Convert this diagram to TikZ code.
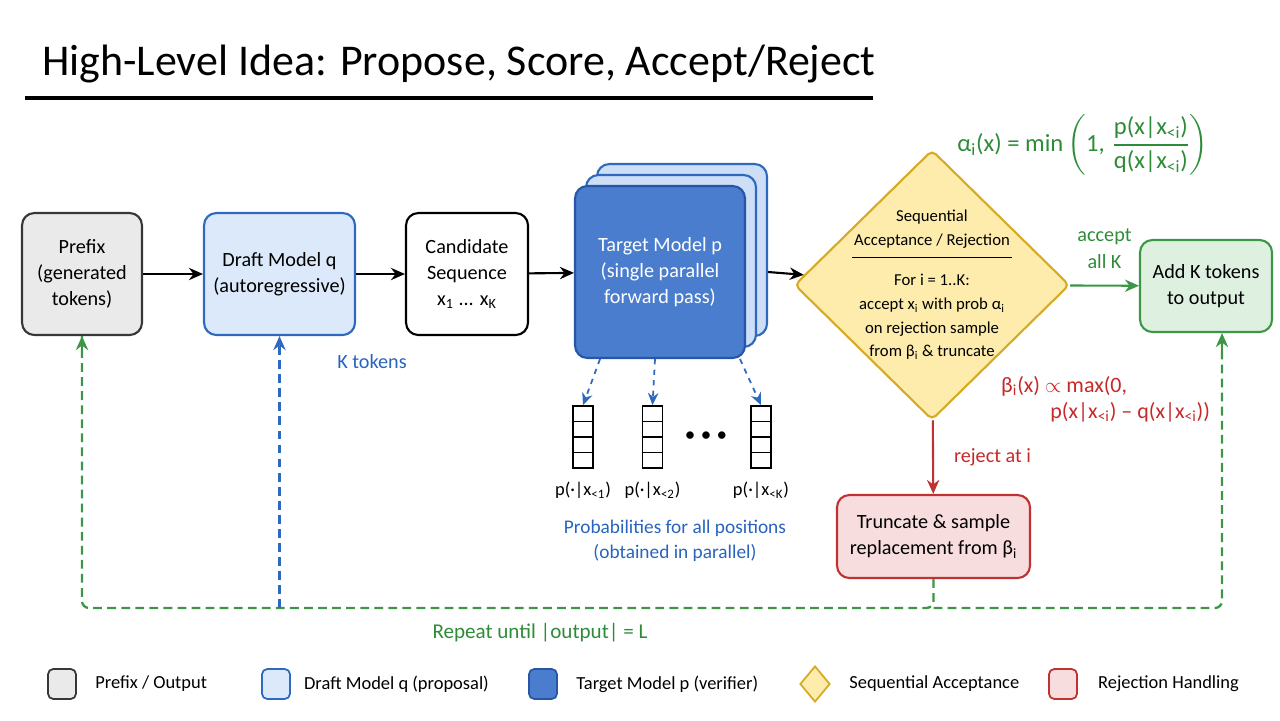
\documentclass[tikz,border=0pt]{standalone}
\usepackage{fontspec}
\usepackage{amsmath}
\setmainfont{Carlito}
\usetikzlibrary{positioning,shapes.geometric,arrows.meta,calc}
\definecolor{prefixfill}{RGB}{234,234,234}
\definecolor{prefixline}{RGB}{55,55,55}
\definecolor{draftfill}{RGB}{219,233,250}
\definecolor{draftline}{RGB}{45,105,190}
\definecolor{targetfill}{RGB}{74,125,205}
\definecolor{targetline}{RGB}{40,85,165}
\definecolor{targetback}{RGB}{205,222,246}
\definecolor{accfill}{RGB}{253,236,172}
\definecolor{accline}{RGB}{214,170,35}
\definecolor{addfill}{RGB}{222,241,225}
\definecolor{addline}{RGB}{60,150,70}
\definecolor{rejfill}{RGB}{248,221,222}
\definecolor{rejline}{RGB}{190,50,50}
\definecolor{greentext}{RGB}{45,140,55}
\definecolor{redtext}{RGB}{200,40,40}
\definecolor{bluetext}{RGB}{40,100,190}
\newcommand{\boxfont}{\fontsize{11.5}{15}\selectfont}
\newcommand{\accfont}{\fontsize{9.5}{13.5}\selectfont}
\newcommand{\legfont}{\fontsize{10.5}{12}\selectfont}
\newcommand{\xlt}[1]{x\textsubscript{<#1}}

\begin{document}
\begin{tikzpicture}[
  x=0.02cm, y=-0.02cm,
  font=\boxfont,
  stage/.style={                            % process box: rounded rectangle
    draw, line width=1.2pt, rounded corners=7pt,
    align=center, inner sep=2pt
  },
  vec/.style={
    draw, line width=0.9pt, minimum width=0.4cm, minimum height=1.24cm,
    inner sep=0pt
  },
  flow/.style={draw=black, line width=1.2pt, -{Stealth[length=8pt,width=7pt]}},
  probarrow/.style={draw=draftline, line width=1pt, dashed,
    -{Stealth[length=7pt,width=6pt]}},
  backedge/.style={line width=1.3pt, dash pattern=on 5pt off 3pt,
    rounded corners=4pt},
  legbox/.style={draw, line width=1pt, rounded corners=3pt,
    minimum width=0.56cm, minimum height=0.6cm, inner sep=0pt},
  legtext/.style={font=\legfont, anchor=west},
]
\useasboundingbox (0,0) rectangle (1280,720);

% ---- Title ----
\node (title) [anchor=base west, font=\fontsize{25}{29}\selectfont] at (36,75)
  {High-Level Idea: Propose, Score, Accept/Reject};
\draw[line width=2.5pt] (25,98) -- (873,98);

% ---- Main pipeline ----
\node (prefix) at (82,274)  [stage, fill=prefixfill, draw=prefixline,
  minimum width=2.4cm, minimum height=2.44cm] {Prefix\\(generated\\tokens)};
\node (draft)  at (279.5,274) [stage, fill=draftfill, draw=draftline,
  minimum width=3.02cm, minimum height=2.44cm] {Draft Model q\\(autoregressive)};
\node (cand)   at (467,274) [stage, fill=white, draw=black,
  minimum width=2.44cm, minimum height=2.44cm]
  {Candidate\\Sequence\\x\textsubscript{1} ... x\textsubscript{K}};

\node (tgtback2) at (682,250) [stage, fill=targetback, draw=draftline,
  minimum width=3.4cm, minimum height=3.44cm] {};
\node (tgtback1) at (671,261) [stage, fill=targetback, draw=draftline,
  minimum width=3.4cm, minimum height=3.44cm] {};
\node (target) at (660,272) [stage, fill=targetfill, draw=targetline, text=white,
  minimum width=3.4cm, minimum height=3.44cm]
  {Target Model p\\(single parallel\\forward pass)};

\node (acc) at (932,285) [diamond, draw=accline, fill=accfill, line width=1.2pt,
  rounded corners=3pt, minimum width=5.5cm, minimum height=5.4cm, inner sep=0pt] {};
\node (acchead) at (932,229) [font=\accfont, align=center, inner sep=1pt]
  {Sequential\\Acceptance / Rejection};
\draw[line width=0.8pt] ([yshift=-4pt]acchead.south west) -- ([yshift=-4pt]acchead.south east);
\node (accbody) at (932,317) [font=\accfont, align=center]
  {For i = 1..K:\\accept x\textsubscript{i} with prob α\textsubscript{i}\\
   on rejection sample\\from β\textsubscript{i} \& truncate};

\node (add) at (1206,286) [stage, fill=addfill, draw=addline,
  minimum width=2.64cm, minimum height=1.84cm] {Add K tokens\\to output};
\node (trunc) at (933.5,536.5) [stage, fill=rejfill, draw=rejline,
  minimum width=3.86cm, minimum height=1.66cm]
  {Truncate \& sample\\replacement from β\textsubscript{i}};

% ---- Edges ----
\foreach \p/\c in {prefix/draft, draft/cand, cand/target}
  \draw[flow] (\p) -- (\c);
\draw[flow] (target.east -| tgtback2.east) -- (acc);
\draw[flow, draw=addline] (acc) -- (add)
  node[midway, above=6pt, text=greentext, align=center] {accept\\all K};
\draw[flow, draw=rejline] (acc) -- (trunc)
  node[midway, right=8pt, text=redtext] {reject at i};

\node (ktok) at (372,362) [text=bluetext] {K tokens};

% ---- Formulas ----
\node (alphaeq) at (1083,145) [text=greentext, font=\fontsize{14}{16}\selectfont]
  {$\text{α\textsubscript{i}(x) = min}\left(\text{1,}\;
    \dfrac{\text{p(x|\xlt{i})}}{\text{q(x|\xlt{i})}}\right)$};
\node (betaeq) at (995,399) [anchor=west, text=redtext, align=left,
  font=\fontsize{12.5}{15}\selectfont]
  {β\textsubscript{i}(x) $\propto$ max(0,\\
   \hspace{28pt}p(x|\xlt{i}) -- q(x|\xlt{i}))};

% ---- Per-position distributions ----
\foreach \n/\x in {1/583, 2/652.5, K/761} {
  \node (vec\n) at (\x,437) [vec] {};
  \foreach \dy in {-15.5,0,15.5}
    \draw[line width=0.9pt] ($(vec\n.west)+(0,\dy)$) -- ($(vec\n.east)+(0,\dy)$);
  \node (lab\n) [below=4pt of vec\n, font=\fontsize{10.5}{12}\selectfont]
    {p(·|\xlt{\n})};
}
\node (dots) at (706,437) {\fontsize{12}{12}\selectfont •\kern3pt•\kern3pt•};
\draw[probarrow] ([xshift=-1.2cm]target.south) -- (vec1.north);
\draw[probarrow] ([xshift=-0.1cm]target.south) -- (vec2.north);
\draw[probarrow] ([xshift=1.6cm]target.south)  -- (vecK.north);
\node (probcap) at (675,541) [text=bluetext, align=center,
  font=\fontsize{11}{14.5}\selectfont]
  {Probabilities for all positions\\(obtained in parallel)};

% ---- Repeat loop ----
\coordinate (loopL) at (82,608);
\coordinate (loopR) at (1222,608);
\draw[backedge, draw=addline] (trunc.south) -- (trunc.south |- loopL) -- (loopL)
  -- (prefix.south);
\draw[backedge, draw=addline] (trunc.south |- loopL) -- (loopR)
  -- (loopR |- add.south);
\draw[draw=addline, line width=1.3pt, -{Stealth[length=8pt,width=7pt]}]
  ([yshift=-10pt]prefix.south) -- (prefix.south);
\draw[draw=addline, line width=1.3pt, -{Stealth[length=8pt,width=7pt]}]
  ([yshift=-10pt]loopR |- add.south) -- (loopR |- add.south);
\draw[line width=1.3pt, draw=draftline, dash pattern=on 5pt off 3pt,
  -{Stealth[length=8pt,width=7pt]}] (draft.south |- loopL) -- (draft.south);
\node (repeat) at (540,633) [text=greentext, font=\fontsize{12}{14}\selectfont]
  {Repeat until |output| = L};

% ---- Legend ----
\node (lg1) at (62,684)  [legbox, fill=prefixfill, draw=prefixline] {};
\node (lg2) at (276,684) [legbox, fill=draftfill, draw=draftline] {};
\node (lg3) at (543,684) [legbox, fill=targetfill, draw=targetline] {};
\node (lg4) at (815,684) [diamond, fill=accfill, draw=accline, line width=1pt,
  minimum width=0.6cm, minimum height=0.72cm, inner sep=0pt] {};
\node (lg5) at (1063,684) [legbox, fill=rejfill, draw=rejline] {};
\node (lt1) [legtext, right=7pt of lg1] {Prefix / Output};
\node (lt2) [legtext, right=4pt of lg2] {Draft Model q (proposal)};
\node (lt3) [legtext, right=7pt of lg3] {Target Model p (verifier)};
\node (lt4) [legtext, right=7pt of lg4] {Sequential Acceptance};
\node (lt5) [legtext, right=8pt of lg5] {Rejection Handling};

\end{tikzpicture}
\end{document}
